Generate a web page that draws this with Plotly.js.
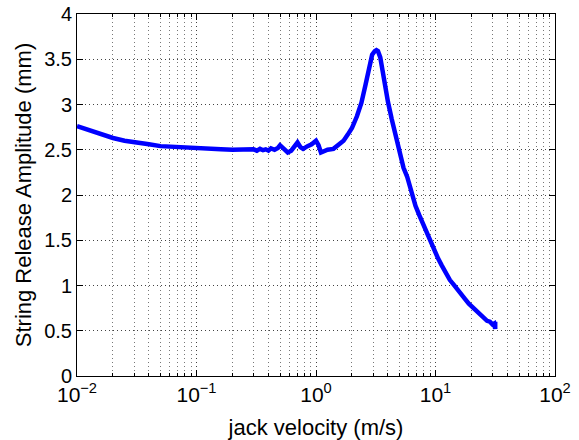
<!DOCTYPE html>
<html>
<head>
<meta charset="utf-8">
<script src="https://cdn.plot.ly/plotly-3.0.1.min.js"></script>
<style>html,body{margin:0;padding:0;background:#fff;}#chart{width:579px;height:440px;}</style>
</head>
<body>
<div id="chart"></div>
<script>
var velocity = [0.01, 0.013, 0.016, 0.02, 0.025, 0.03, 0.04, 0.05, 0.065, 0.08, 0.1, 0.13, 0.16, 0.2, 0.25, 0.28, 0.3, 0.32, 0.34, 0.36, 0.38, 0.4, 0.42, 0.45, 0.48, 0.5, 0.54, 0.58, 0.62, 0.66, 0.7, 0.74, 0.78, 0.85, 0.92, 1.0, 1.05, 1.1, 1.17, 1.25, 1.4, 1.55, 1.7, 1.85, 2.0, 2.2, 2.4, 2.6, 2.8, 2.95, 3.1, 3.2, 3.3, 3.45, 3.6, 3.8, 4.0, 4.3, 4.6, 5.0, 5.4, 5.8, 6.3, 6.8, 7.3, 7.8, 8.4, 9.0, 9.7, 10.5, 11.3, 12.2, 13.2, 14.2, 15.3, 16.5, 17.7, 19.0, 20.5, 22.0, 23.6, 25.3, 27.0, 28.5, 30.0, 31.0, 31.6, 31.6];
var amplitude = [2.76, 2.71, 2.67, 2.63, 2.60, 2.58, 2.56, 2.54, 2.53, 2.52, 2.515, 2.51, 2.505, 2.50, 2.50, 2.495, 2.505, 2.49, 2.51, 2.495, 2.505, 2.49, 2.515, 2.50, 2.52, 2.55, 2.50, 2.47, 2.49, 2.54, 2.58, 2.53, 2.51, 2.54, 2.56, 2.60, 2.55, 2.47, 2.49, 2.50, 2.51, 2.56, 2.60, 2.67, 2.74, 2.87, 3.02, 3.22, 3.44, 3.55, 3.59, 3.60, 3.59, 3.52, 3.38, 3.18, 3.03, 2.84, 2.67, 2.47, 2.30, 2.20, 2.02, 1.88, 1.78, 1.69, 1.59, 1.50, 1.41, 1.30, 1.22, 1.14, 1.06, 1.01, 0.95, 0.90, 0.85, 0.80, 0.76, 0.72, 0.67, 0.65, 0.61, 0.60, 0.57, 0.58, 0.52, 0.60];
var xTicks = [0.01, 0.1, 1, 10, 100];
var xTickText = ['10<sup>\u22122</sup>', '10<sup>\u22121</sup>', '10<sup>0</sup>', '10<sup>1</sup>', '10<sup>2</sup>'];
var yTicks = [0, 0.5, 1, 1.5, 2, 2.5, 3, 3.5, 4];
var yTickText = ['0', '0.5', '1', '1.5', '2', '2.5', '3', '3.5', '4'];

var fontFam = 'Liberation Sans, Arial, Helvetica, sans-serif';
var gridDash = '1px,3px';

var trace = {
  x: velocity, y: amplitude, type: 'scatter', mode: 'lines',
  line: {color: '#0000ff', width: 4.5}, hoverinfo: 'skip'
};

var layout = {
  width: 579, height: 440,
  margin: {l: 77, r: 24, t: 14, b: 64, pad: 0},
  paper_bgcolor: '#fff', plot_bgcolor: '#fff',
  showlegend: false,
  font: {family: fontFam, color: '#000', size: 19},
  xaxis: {
    type: 'log', range: [-2, 2], tickmode: 'array', tickvals: xTicks, ticktext: xTickText,
    ticks: 'inside', ticklen: 6, tickwidth: 1, tickcolor: '#000',
    showline: true, linecolor: '#000', linewidth: 1, mirror: 'ticks',
    showgrid: true, gridcolor: '#444', gridwidth: 1, griddash: gridDash,
    zeroline: false,
    tickfont: {size: 21, family: fontFam, color: '#000'},
    minor: {dtick: 'D1', ticks: 'inside', ticklen: 3, tickcolor: '#000',
            showgrid: true, gridcolor: '#777', gridwidth: 1, griddash: gridDash},
    title: {text: 'jack velocity (m/s)', font: {size: 22, family: fontFam, color: '#000'}, standoff: 14}
  },
  yaxis: {
    range: [0, 4], tickmode: 'array', tickvals: yTicks, ticktext: yTickText,
    ticks: 'inside', ticklen: 6, tickwidth: 1, tickcolor: '#000',
    showline: true, linecolor: '#000', linewidth: 1, mirror: 'ticks',
    showgrid: true, gridcolor: '#444', gridwidth: 1, griddash: gridDash,
    zeroline: false,
    tickfont: {size: 20, family: fontFam, color: '#000'},
    title: {text: 'String Release Amplitude (mm)', font: {size: 22, family: fontFam, color: '#000'}, standoff: 6}
  }
};

Plotly.newPlot('chart', [trace], layout, {staticPlot: true, displayModeBar: false});
</script>
</body>
</html>
